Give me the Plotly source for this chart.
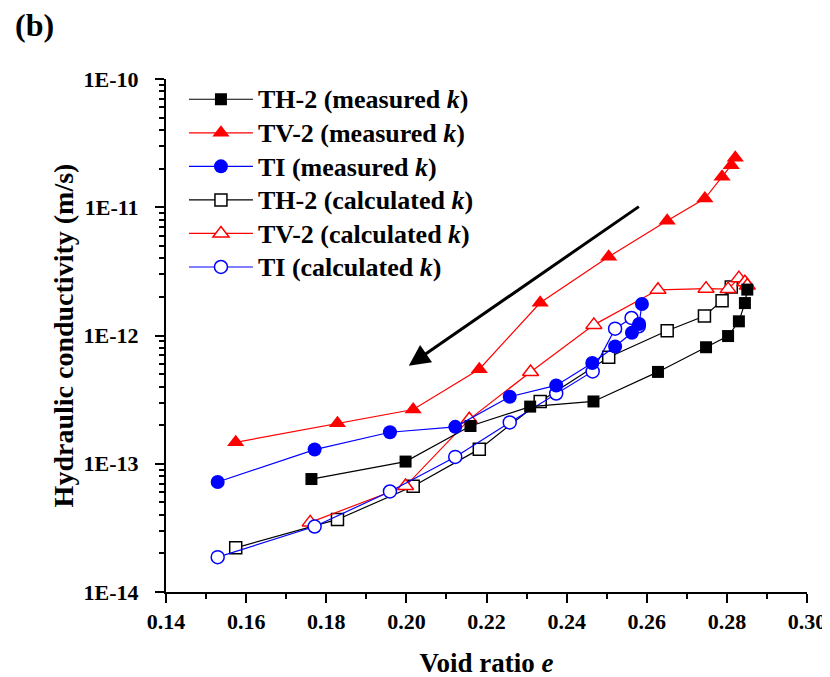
import plotly.graph_objects as go

# ---------------- data ----------------
th2_meas_e = [0.1763, 0.1998, 0.2160, 0.2309, 0.2467, 0.2628, 0.2748, 0.2803, 0.2830, 0.2845, 0.2851]
th2_meas_k = [7.6e-14, 1.04e-13, 1.97e-13, 2.79e-13, 3.06e-13, 5.2e-13, 8.1e-13, 9.9e-13, 1.29e-12, 1.79e-12, 2.28e-12]

tv2_meas_e = [0.1574, 0.1828, 0.2017, 0.2182, 0.2334, 0.2505, 0.2651, 0.2745, 0.2788, 0.2811, 0.2821]
tv2_meas_k = [1.47e-13, 2.07e-13, 2.65e-13, 5.46e-13, 1.80e-12, 4.11e-12, 7.85e-12, 1.17e-11, 1.73e-11, 2.13e-11, 2.43e-11]

ti_meas_e = [0.1529, 0.1771, 0.1959, 0.2122, 0.2258, 0.2374, 0.2464, 0.2521, 0.2563, 0.2581, 0.2588]
ti_meas_k = [7.2e-14, 1.29e-13, 1.76e-13, 1.94e-13, 3.33e-13, 4.08e-13, 6.1e-13, 8.2e-13, 1.05e-12, 1.23e-12, 1.76e-12]

th2_calc_e = [0.1574, 0.1828, 0.2017, 0.2182, 0.2334, 0.2505, 0.2651, 0.2744, 0.2788, 0.2811]
th2_calc_k = [2.21e-14, 3.68e-14, 6.67e-14, 1.30e-13, 3.06e-13, 6.76e-13, 1.09e-12, 1.42e-12, 1.87e-12, 2.39e-12]

tv2_calc_e = [0.1760, 0.1998, 0.2157, 0.2310, 0.2468, 0.2628, 0.2748, 0.2803, 0.2830, 0.2845, 0.2851]
tv2_calc_k = [3.49e-14, 6.7e-14, 2.22e-13, 5.2e-13, 1.21e-12, 2.27e-12, 2.32e-12, 2.3e-12, 2.8e-12, 2.6e-12, 2.45e-12]

ti_calc_e = [0.1529, 0.1771, 0.1959, 0.2122, 0.2258, 0.2374, 0.2465, 0.2521, 0.2562, 0.2580]
ti_calc_k = [1.87e-14, 3.24e-14, 6.08e-14, 1.13e-13, 2.1e-13, 3.53e-13, 5.25e-13, 1.13e-12, 1.37e-12, 1.18e-12]

x_ticks = [0.14, 0.16, 0.18, 0.20, 0.22, 0.24, 0.26, 0.28, 0.30]
x_tick_labels = ["0.14", "0.16", "0.18", "0.20", "0.22", "0.24", "0.26", "0.28", "0.30"]
y_ticks = [1e-14, 1e-13, 1e-12, 1e-11, 1e-10]
y_tick_labels = ["1E-14", "1E-13", "1E-12", "1E-11", "1E-10"]

FONT = "Liberation Serif"

fig = go.Figure()

def add(e, k, name, color, symbol, size, open_=False):
    fig.add_trace(go.Scatter(
        x=e, y=k, mode="lines+markers",
        name='<span style="font-size:26px"><b>%s</b></span>' % name,
        line=dict(color=color, width=1.2),
        marker=dict(symbol=symbol, size=size,
                    color="white" if open_ else color,
                    line=dict(color=color, width=1.5 if open_ else 0)),
    ))

add(th2_calc_e, th2_calc_k, "TH-2 (calculated <i>k</i>)", "black", "square", 12, True)
add(tv2_calc_e, tv2_calc_k, "TV-2 (calculated <i>k</i>)", "red", "triangle-up", 14, True)
add(ti_calc_e, ti_calc_k, "TI (calculated <i>k</i>)", "blue", "circle", 13, True)
add(th2_meas_e, th2_meas_k, "TH-2 (measured <i>k</i>)", "black", "square", 12)
add(tv2_meas_e, tv2_meas_k, "TV-2 (measured <i>k</i>)", "red", "triangle-up", 15)
add(ti_meas_e, ti_meas_k, "TI (measured <i>k</i>)", "blue", "circle", 14)

# legend order: measured first, then calculated
for i, t in enumerate(fig.data):
    t.legendrank = [4, 5, 6, 1, 2, 3][i]

fig.add_annotation(
    x=0.2006, y=-12.235, ax=0.2584, ay=-10.987,
    xref="x", yref="y", axref="x", ayref="y",
    showarrow=True, arrowhead=2, arrowsize=1.4, arrowwidth=3,
    arrowcolor="black", text="", standoff=0,
)

fig.add_annotation(
    text="<b>(b)</b>", xref="paper", yref="paper", x=-0.239, y=1.105,
    xanchor="left", yanchor="middle", showarrow=False,
    font=dict(family=FONT, size=32, color="black"),
)

fig.update_layout(
    width=830, height=677,
    paper_bgcolor="white", plot_bgcolor="white",
    margin=dict(l=158, r=21, t=71, b=84),
    font=dict(family=FONT, color="black"),
    showlegend=True,
    legend=dict(
        x=0.028, y=1.003, xanchor="left", yanchor="top",
        bgcolor="rgba(0,0,0,0)", font=dict(family=FONT, size=23.5, color="black"),
        tracegroupgap=0, itemwidth=64,
    ),
    xaxis=dict(
        range=[0.14, 0.30], showgrid=False, zeroline=False,
        showline=True, linecolor="black", linewidth=2,
        ticks="outside", ticklen=9, tickwidth=2, tickcolor="black",
        tickvals=x_ticks, ticktext=["<b>%s</b>" % s for s in x_tick_labels],
        tickfont=dict(family=FONT, size=22, color="black"),
        minor=dict(dtick=0.01, tick0=0.14, ticks="outside", ticklen=5, tickwidth=1.5, tickcolor="black"),
        title=dict(text="<b>Void ratio <i>e</i></b>", font=dict(family=FONT, size=27, color="black"), standoff=20),
    ),
    yaxis=dict(
        type="log", range=[-14, -10], showgrid=False, zeroline=False,
        showline=True, linecolor="black", linewidth=2,
        ticks="outside", ticklen=9, tickwidth=2, tickcolor="black",
        tickvals=y_ticks, ticktext=["<b>%s</b>" % s for s in y_tick_labels],
        tickfont=dict(family=FONT, size=22, color="black"),
        ticklabelstandoff=12,
        minor=dict(
            tickvals=[m * 10.0 ** p for p in range(-14, -10) for m in range(2, 10)],
            ticks="outside", ticklen=5, tickwidth=1.5, tickcolor="black"),
        title=dict(text="<b>Hydraulic conductivity (m/s)</b>", font=dict(family=FONT, size=28, color="black"), standoff=2),
    ),
)

fig.write_html("out.html")
